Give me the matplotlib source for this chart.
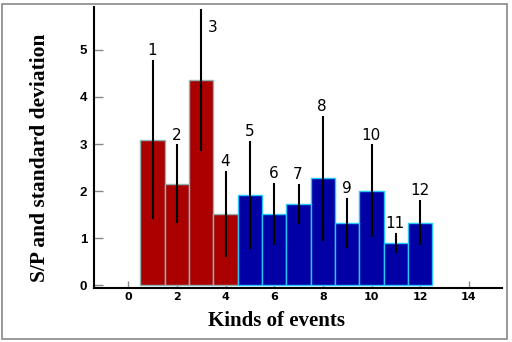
import numpy as np
import matplotlib.pyplot as plt
from matplotlib.patches import Rectangle

# valores
eventos = np.arange(1, 13)
sp = [3.09, 2.16, 4.36, 1.52, 1.92, 1.52, 1.73, 2.27, 1.33, 2.01, 0.90, 1.33]
desvio = [1.67, 0.81, 1.48, 0.89, 1.12, 0.64, 0.40, 1.30, 0.51, 0.96, 0.19, 0.46]
rotulos = [str(i) for i in eventos]
cores = ['#aa0000'] * 4 + ['#0000a4'] * 8
bordas = ['#8fb4b4'] * 4 + ['#22c8ff'] * 8
xticks = [0, 2, 4, 6, 8, 10, 12, 14]
yticks = [0, 1, 2, 3, 4, 5]

fig = plt.figure(figsize=(5.12, 3.42), dpi=100)
ax = fig.add_axes([94/512, 1-288/342, (502-94)/512, (288-7)/342])

ax.bar(eventos, sp, width=1.0, color=cores, edgecolor=bordas, linewidth=1, zorder=2)
topos = []
for x, m, d in zip(eventos, sp, desvio):
    ax.plot([x, x], [m-d, m+d], color='black', lw=1.5, zorder=3)
    topos.append(m+d)

for x, t, r in zip(eventos, topos, rotulos):
    if r == '3':
        # rotulo 3 fica ao lado da barra de erro
        ax.text(x+0.47, t-0.36, r, ha='center', va='center', fontsize=11,
                family='DejaVu Sans')
    else:
        ax.text(x-0.03, t+0.22, r, ha='center', va='center', fontsize=11,
                family='DejaVu Sans')

ax.set_xlim(-1.41, 15.36)
ax.set_ylim(-0.057, 5.91)
ax.set_xticks(xticks)
ax.set_yticks(yticks)
ax.set_xticklabels([str(v) for v in xticks], fontsize=8, fontweight='bold',
                   family='DejaVu Sans')
ax.set_yticklabels([str(v) for v in yticks], fontsize=9.5, fontweight='bold',
                   family='Liberation Sans')
ax.tick_params(axis='x', direction='in', length=5, width=1, color='#888888', pad=3)
ax.tick_params(axis='y', direction='in', length=6.5, width=1, color='#888888', pad=5)
for s in ['top', 'right']:
    ax.spines[s].set_visible(False)
ax.spines['left'].set_linewidth(1.5)
ax.spines['bottom'].set_linewidth(1.5)

fig.text(276/512, 1-321/342, 'Kinds of events', ha='center', va='center',
         fontsize=15, fontweight='bold', family='Liberation Serif')
fig.text(40/512, 1-158/342, 'S/P and standard deviation', ha='center', va='center',
         rotation=90, fontsize=15.5, fontweight='bold', family='Liberation Serif')

fig.patches.append(Rectangle((2/512, 1-339/342), 505/512, 335/342, transform=fig.transFigure,
                             fill=False, edgecolor='#888888', linewidth=1.2))

fig.savefig('out.png', dpi=100)
